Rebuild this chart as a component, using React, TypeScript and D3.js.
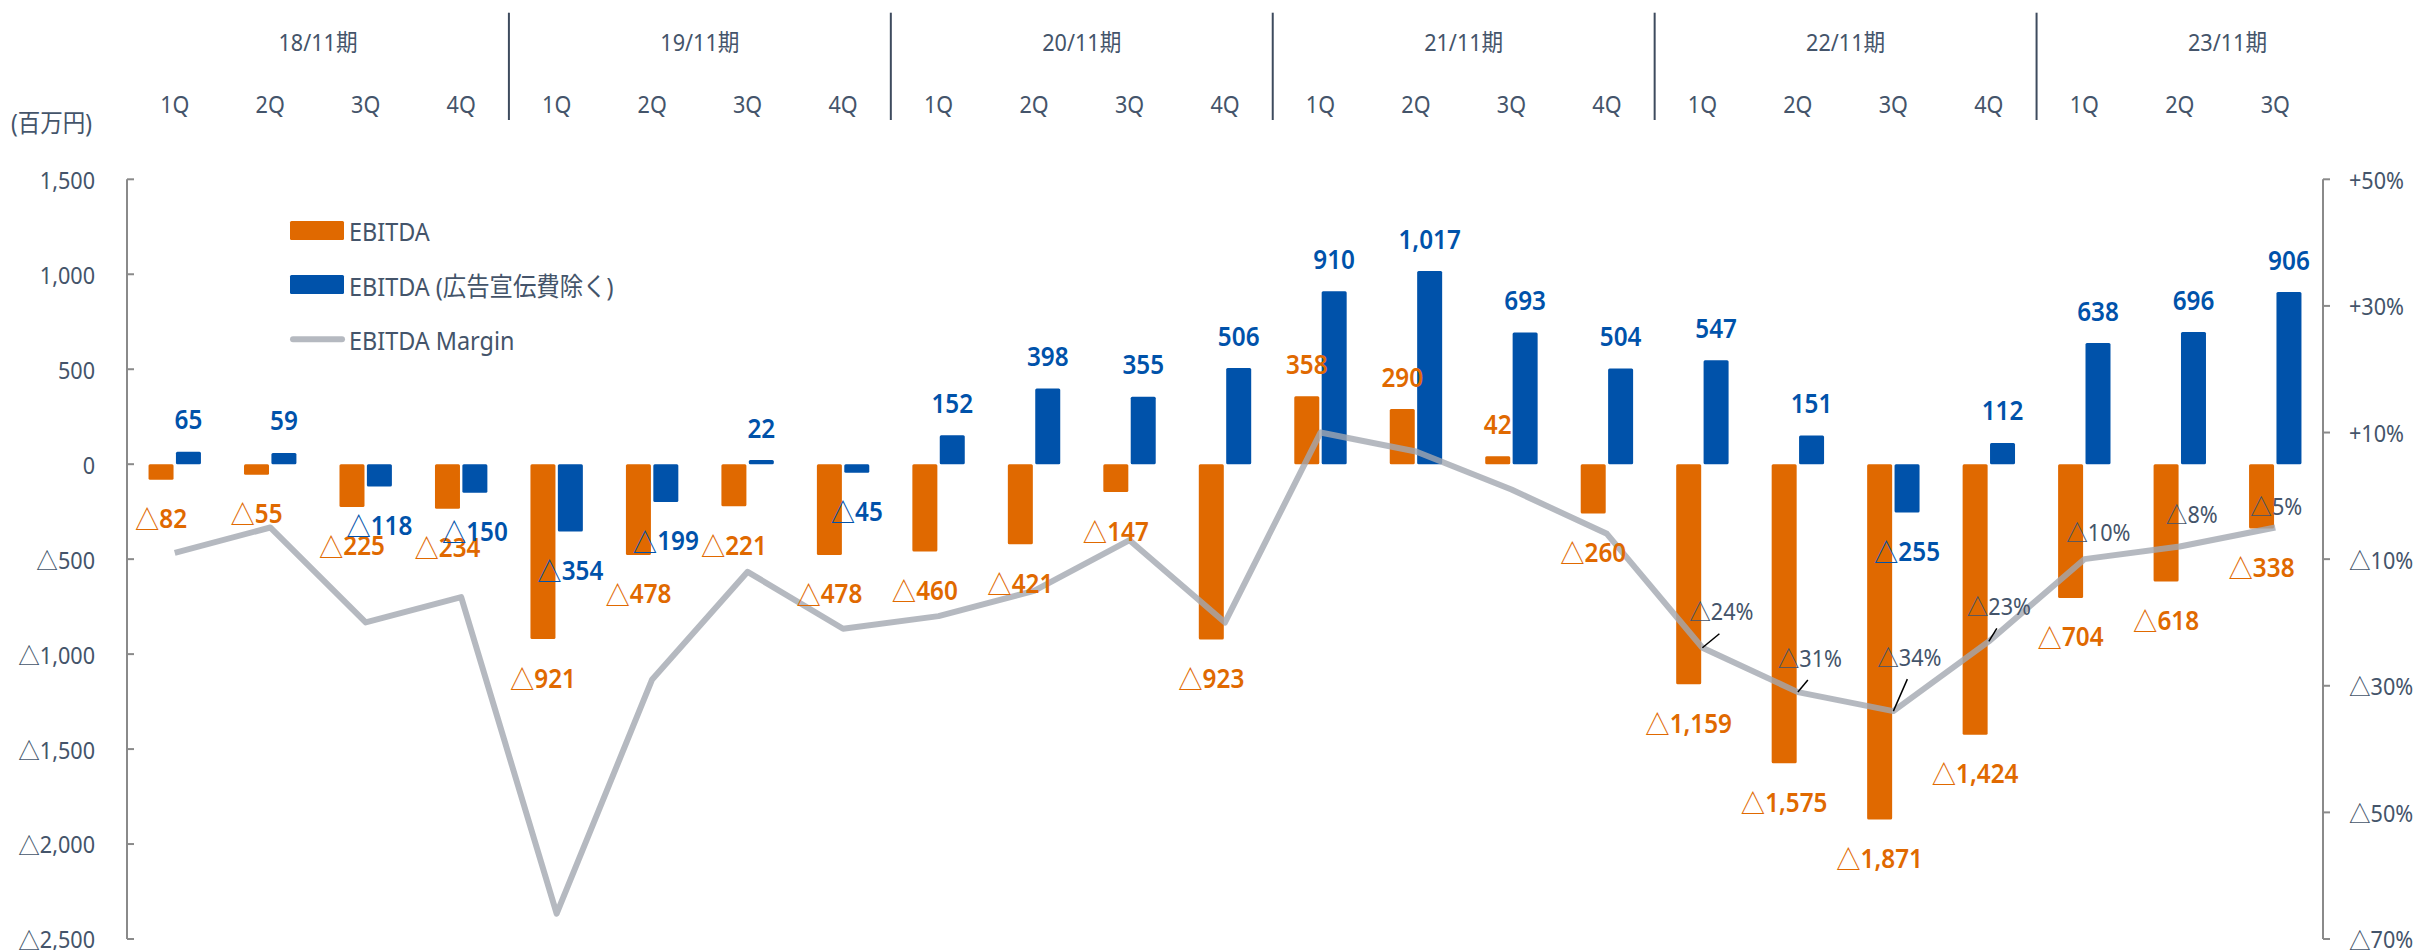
import React, { useEffect, useRef } from 'react';
import * as d3 from 'd3';

const YEARS = ['18/11期', '19/11期', '20/11期', '21/11期', '22/11期', '23/11期'];
const QUARTERS = [
  '1Q', '2Q', '3Q', '4Q', '1Q', '2Q', '3Q', '4Q', '1Q', '2Q', '3Q', '4Q',
  '1Q', '2Q', '3Q', '4Q', '1Q', '2Q', '3Q', '4Q', '1Q', '2Q', '3Q',
];
// EBITDA (百万円)
const EBITDA = [
  -82, -55, -225, -234, -921, -478, -221, -478, -460, -421, -147, -923,
  358, 290, 42, -260, -1159, -1575, -1871, -1424, -704, -618, -338,
];
// EBITDA (広告宣伝費除く)
const EBITDA_EX_AD = [
  65, 59, -118, -150, -354, -199, 22, -45, 152, 398, 355, 506,
  910, 1017, 693, 504, 547, 151, -255, 112, 638, 696, 906,
];
// EBITDA Margin (%)
const MARGIN = [
  -9, -5, -20, -16, -66, -29, -12, -21, -19, -15, -7, -20,
  10, 7, 1, -6, -24, -31, -34, -23, -10, -8, -5,
];
const MARGIN_LABELED = [16, 17, 18, 19, 20, 21, 22];
const MARGIN_LEADER = [16, 17, 18, 19];
const Y_TICKS = [1500, 1000, 500, 0, -500, -1000, -1500, -2000, -2500];
const PCT_TICKS = [50, 30, 10, -10, -30, -50, -70];
const LEGEND = ['EBITDA', 'EBITDA (広告宣伝費除く)', 'EBITDA Margin'];

// label nudges for the margin labels (dx, dy from the point)
const PCT_NUDGE: Record<number, [number, number]> = {
  16: [19, -37], 17: [12, -35], 18: [16, -55], 19: [10, -36],
  20: [14, -28], 21: [12, -33], 22: [1, -22],
};

const ORANGE = '#e06900';
const BLUE = '#0052aa';
const TEXT = '#44546a';
const GRID = '#8a8a8a';
const LINE = '#a3a7b0';
const FONT = "'Noto Sans', 'Noto Sans CJK JP', sans-serif";
const CJK = "'Noto Sans CJK JP', sans-serif";
const SX = 0.9; // the source font is a bit narrower than Noto Sans

function App() {
  const ref = useRef<SVGSVGElement>(null);

  useEffect(() => {
    const svg = d3.select(ref.current);
    svg.selectAll('*').remove();
    const W = 2420, H = 950, m = { t: 179.3, r: 97, b: 11, l: 127 };
    const n = QUARTERS.length;
    const x = d3.scaleBand<number>().domain(d3.range(n)).range([m.l, W - m.r]);
    const bw = x.bandwidth();
    const cx = (i: number) => (x(i) as number) + bw / 2;
    const y = d3.scaleLinear().domain([-2500, 1500]).range([H - m.b, m.t]);
    const y2 = d3.scaleLinear().domain([-70, 50]).range([H - m.b, m.t]);
    const barW = 25, gap = 2.4;
    const fmt = d3.format(',');

    // text (squeezed a little), with a thin △ for negatives
    function txt(g, px, py, neg, body, opts) {
      const t = g.append('g').attr('transform', `translate(${px},${py}) scale(${SX},1)`)
        .append('text').attr('x', 0).attr('y', 0)
        .attr('text-anchor', opts.anchor || 'middle').attr('dominant-baseline', 'central')
        .attr('font-family', FONT).attr('font-size', opts.size).attr('font-weight', opts.weight || 400)
        .attr('fill', opts.color || TEXT);
      if (neg) t.append('tspan').attr('font-family', CJK).attr('font-weight', 400).text('△');
      t.append('tspan').text(body);
      return t;
    }

    // header: years / quarters / dividers
    YEARS.forEach((yr, i) => {
      txt(svg, (x(i * 4) as number) + bw * 2, 41.7, false, yr, { size: 24 });
      if (i > 0) {
        svg.append('line').attr('x1', x(i * 4)).attr('x2', x(i * 4)).attr('y1', 12.7).attr('y2', 120)
          .attr('stroke', '#3e4b5e').attr('stroke-width', 2);
      }
    });
    QUARTERS.forEach((q, i) => txt(svg, cx(i), 103.7, false, q, { size: 24 }));
    txt(svg, 11, 123, false, '(百万円)', { size: 25, anchor: 'start' });

    // axes
    svg.append('line').attr('x1', m.l).attr('x2', m.l).attr('y1', m.t).attr('y2', H - m.b).attr('stroke', GRID).attr('stroke-width', 2);
    Y_TICKS.forEach(v => {
      svg.append('line').attr('x1', m.l).attr('x2', m.l + 7).attr('y1', y(v)).attr('y2', y(v)).attr('stroke', GRID).attr('stroke-width', 2);
      txt(svg, 95, y(v), v < 0, fmt(Math.abs(v)), { anchor: 'end', size: 24 });
    });
    const rx = W - m.r;
    svg.append('line').attr('x1', rx).attr('x2', rx).attr('y1', m.t).attr('y2', H - m.b).attr('stroke', GRID).attr('stroke-width', 2);
    PCT_TICKS.forEach(v => {
      svg.append('line').attr('x1', rx).attr('x2', rx + 7).attr('y1', y2(v)).attr('y2', y2(v)).attr('stroke', GRID).attr('stroke-width', 2);
      txt(svg, 2349, y2(v), v < 0, (v > 0 ? '+' : '') + Math.abs(v) + '%', { anchor: 'start', size: 24 });
    });

    // bars
    const bars = svg.append('g');
    EBITDA.forEach((v, i) => {
      bars.append('rect').attr('x', cx(i) - gap / 2 - barW).attr('width', barW)
        .attr('y', y(Math.max(0, v))).attr('height', Math.abs(y(v) - y(0))).attr('rx', 1.5).attr('fill', ORANGE);
    });
    EBITDA_EX_AD.forEach((v, i) => {
      bars.append('rect').attr('x', cx(i) + gap / 2).attr('width', barW)
        .attr('y', y(Math.max(0, v))).attr('height', Math.abs(y(v) - y(0))).attr('rx', 1.5).attr('fill', BLUE);
    });

    // margin line
    svg.append('path').datum(MARGIN).attr('fill', 'none').attr('stroke', LINE).attr('stroke-opacity', 0.8)
      .attr('stroke-width', 6).attr('stroke-linejoin', 'round')
      .attr('d', d3.line<number>().x((d, i) => cx(i)).y(d => y2(d)));

    // bar labels (outside end)
    const labels = svg.append('g');
    EBITDA.forEach((v, i) => {
      const ly = v >= 0 ? y(v) - 33 : y(v) + 38;
      txt(labels, cx(i) - gap / 2 - barW / 2, ly, v < 0, fmt(Math.abs(v)), { size: 27, weight: 600, color: ORANGE });
    });
    EBITDA_EX_AD.forEach((v, i) => {
      const ly = v >= 0 ? y(v) - 33 : y(v) + 38;
      txt(labels, cx(i) + gap / 2 + barW / 2, ly, v < 0, fmt(Math.abs(v)), { size: 27, weight: 600, color: BLUE });
    });

    // margin labels + leaders
    MARGIN_LABELED.forEach(i => {
      const [dx, dy] = PCT_NUDGE[i];
      const px = cx(i), py = y2(MARGIN[i]);
      const lx = px + dx, ly = py + dy;
      if (MARGIN_LEADER.includes(i)) {
        labels.append('line').attr('x1', px).attr('y1', py).attr('x2', lx - 2).attr('y2', ly + 23)
          .attr('stroke', '#000').attr('stroke-width', 1.5);
      }
      txt(labels, lx, ly, MARGIN[i] < 0, Math.abs(MARGIN[i]) + '%', { size: 24 });
    });

    // legend
    const lg = svg.append('g');
    lg.append('rect').attr('x', 290).attr('y', 221).attr('width', 54).attr('height', 19).attr('rx', 1.5).attr('fill', ORANGE);
    lg.append('rect').attr('x', 290).attr('y', 275).attr('width', 54).attr('height', 19).attr('rx', 1.5).attr('fill', BLUE);
    lg.append('line').attr('x1', 293).attr('x2', 342).attr('y1', 339.3).attr('y2', 339.3)
      .attr('stroke', LINE).attr('stroke-opacity', 0.8).attr('stroke-width', 6).attr('stroke-linecap', 'round');
    LEGEND.forEach((t, k) => txt(lg, 349, [230.5, 285, 339.3][k], false, t, { size: 26, anchor: 'start' }));
  }, []);

  return (
    <svg ref={ref} width={2420} height={950} viewBox="0 0 2420 950"
      style={{ position: 'absolute', left: 0, top: 0, background: '#fff' }} />
  );
}

export default App;
